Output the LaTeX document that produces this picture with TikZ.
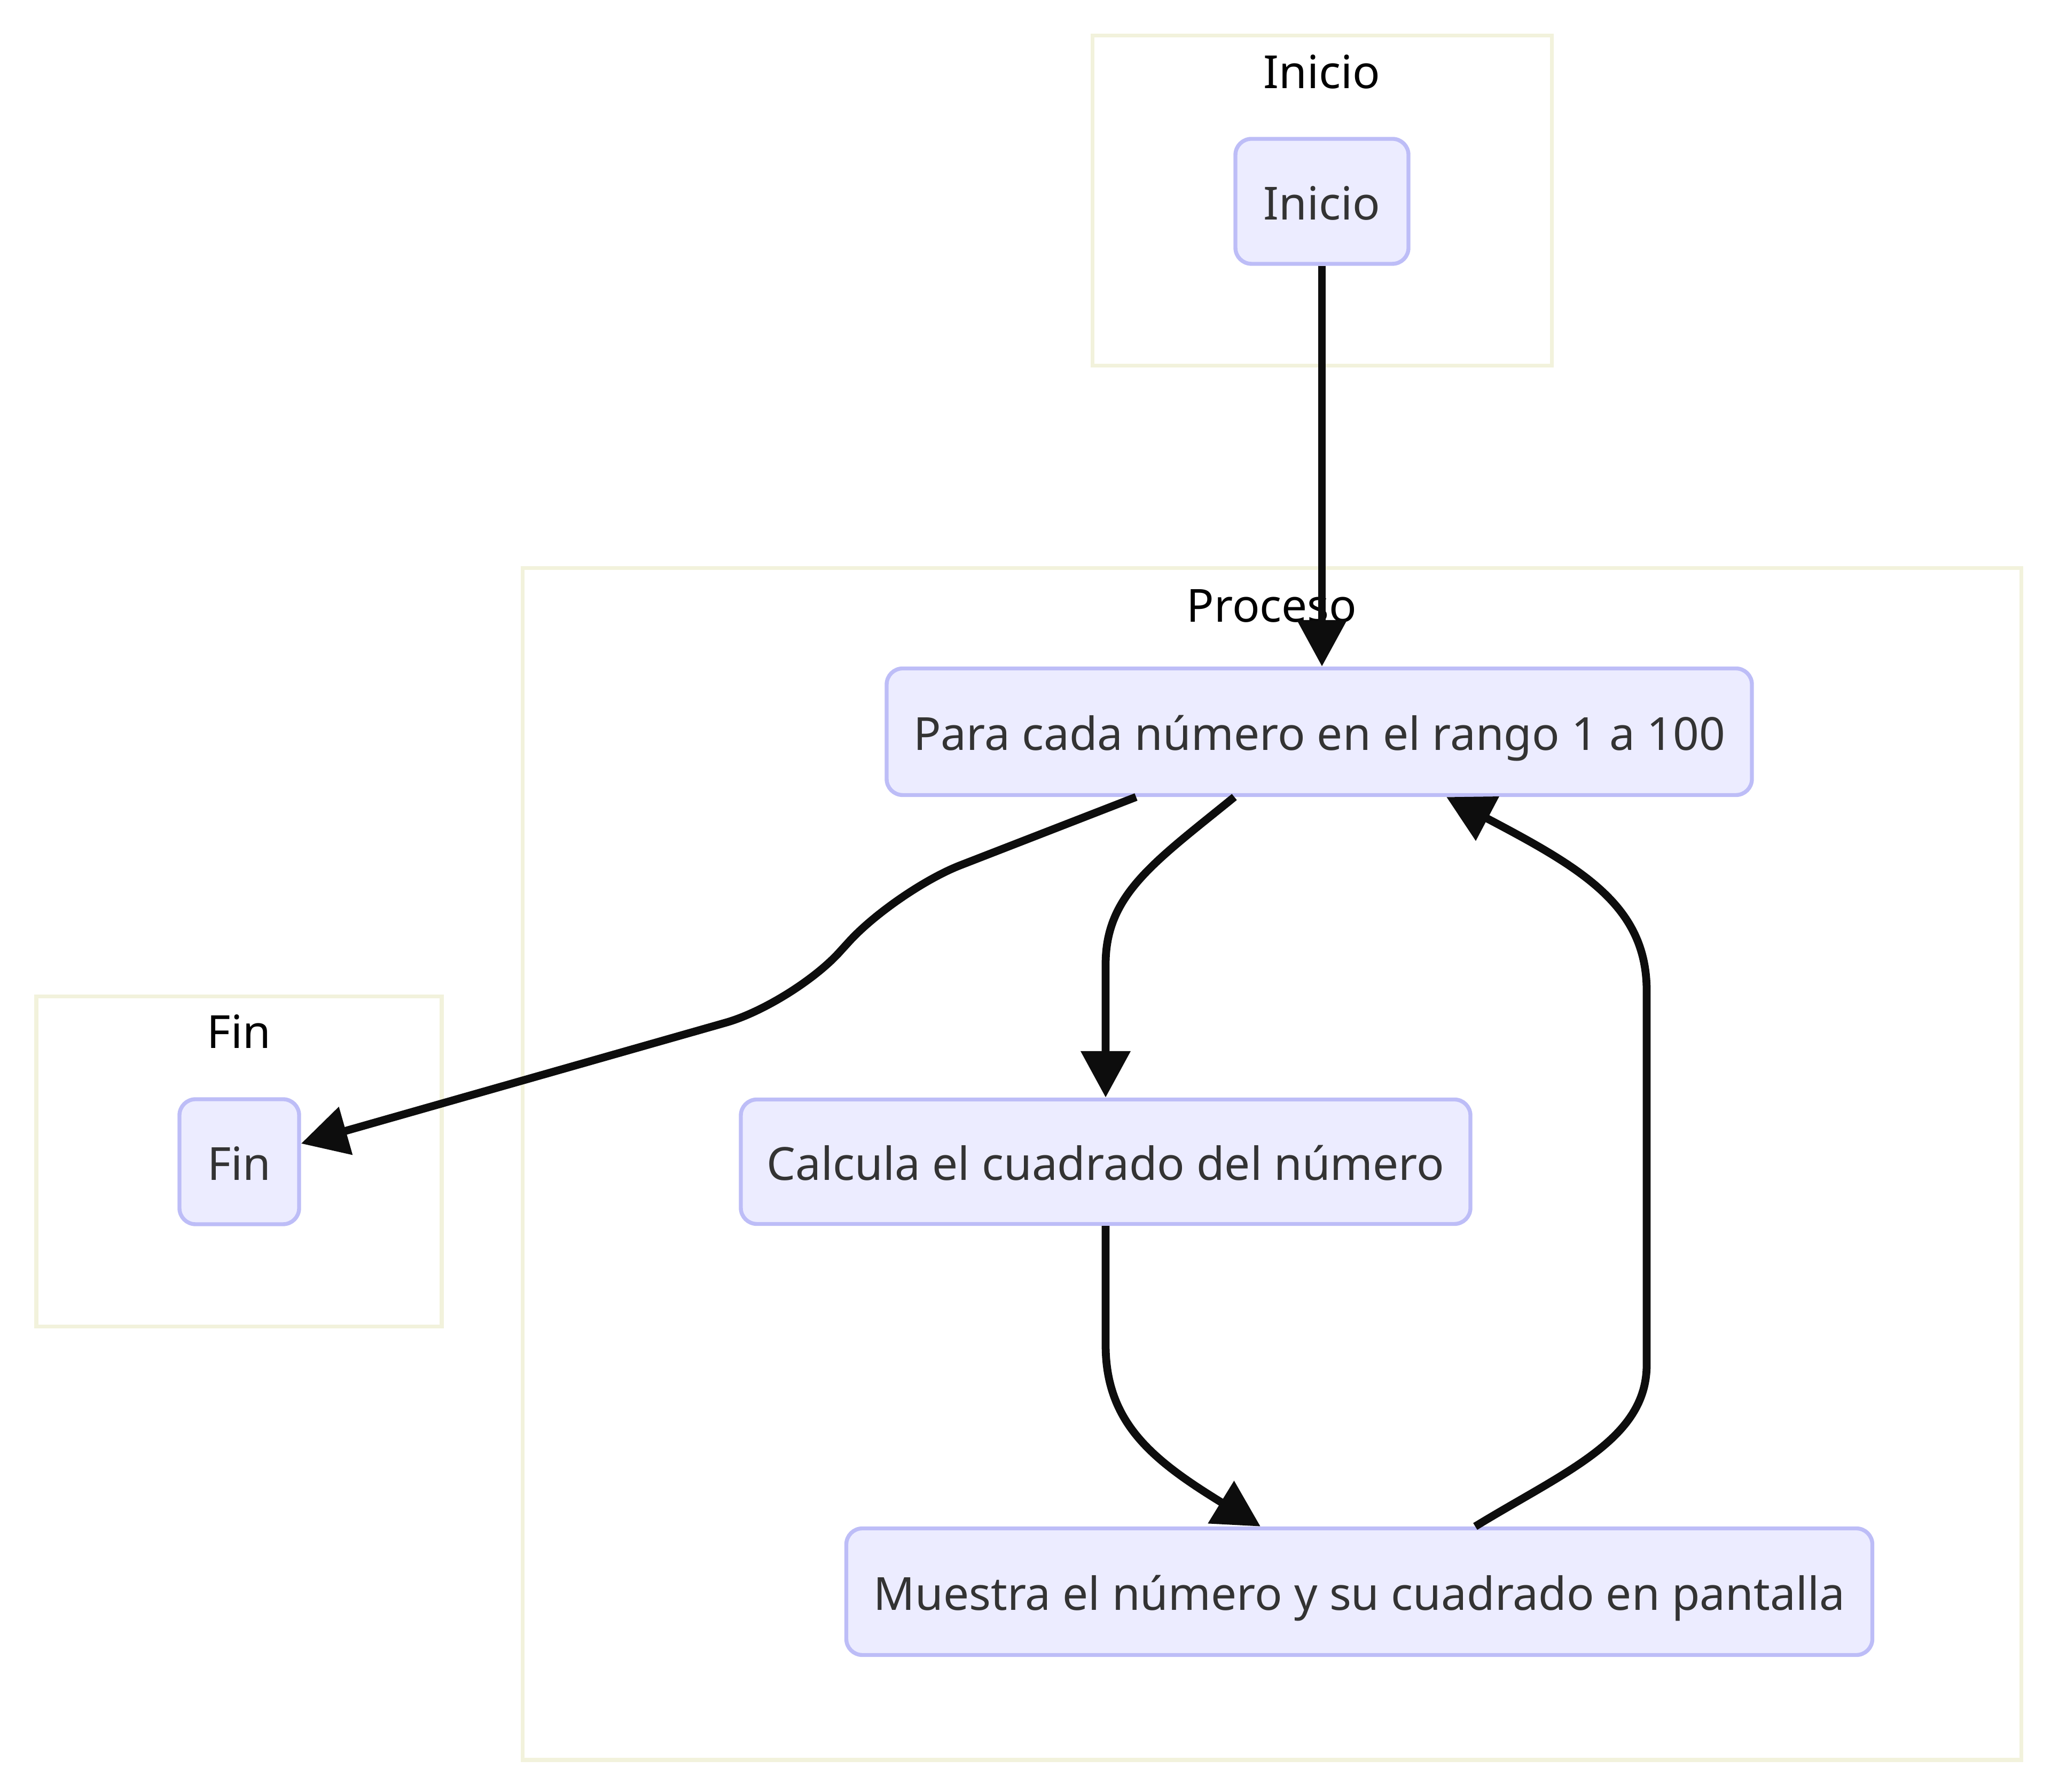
\documentclass[tikz,border=0pt]{standalone}
\usepackage{fontspec}
\setmainfont{Noto Sans}
\usetikzlibrary{arrows.meta}
\definecolor{nodefill}{RGB}{236,236,255}
\definecolor{nodeline}{RGB}{189,189,247}
\definecolor{groupline}{RGB}{242,242,220}
\definecolor{nodetext}{RGB}{51,51,51}
\definecolor{edgeline}{RGB}{13,13,13}
\tikzset{
  box/.style={draw=nodeline, fill=nodefill, line width=2.1pt, rounded corners=0.3cm,
    inner sep=0pt, text=nodetext, text height=0.69cm, text depth=0pt,
    font=\fontsize{24.3}{29}\selectfont},
  group/.style={draw=groupline, fill=white, line width=2pt, inner sep=0pt},
  grouptitle/.style={text=black, inner sep=0pt, anchor=base, font=\fontsize{24.3}{29}\selectfont},
  flow/.style={draw=edgeline, line width=4.2pt, -{Triangle[length=0.87cm,width=0.90cm]}}
}
\begin{document}
\begin{tikzpicture}
  \useasboundingbox (0,0) rectangle (38.4,33.55);
  % subgraphs
  \node[group, minimum width=8.6cm, minimum height=6.18cm] (gini) at (24.75,29.79) {};
  \node[grouptitle] (tini) at (24.75,31.89) {Inicio};
  \node[group, minimum width=28.06cm, minimum height=22.31cm] (gpro) at (23.81,11.755) {};
  \node[grouptitle] (tpro) at (23.81,21.90) {Proceso};
  \node[group, minimum width=7.59cm, minimum height=6.18cm] (gfin) at (4.475,11.80) {};
  \node[grouptitle] (tfin) at (4.475,13.92) {Fin};
  % steps
  \node[box, minimum width=3.24cm, minimum height=2.34cm] (ini) at (24.75,29.78) {Inicio};
  \node[box, minimum width=16.2cm, minimum height=2.37cm] (para) at (24.70,19.85) {Para cada número en el rango 1 a 100};
  \node[box, minimum width=13.66cm, minimum height=2.33cm] (calc) at (20.70,11.80) {Calcula el cuadrado del número};
  \node[box, minimum width=19.21cm, minimum height=2.37cm] (muestra) at (25.45,3.75) {Muestra el número y su cuadrado en pantalla};
  \node[box, minimum width=2.24cm, minimum height=2.34cm] (fin) at (4.48,11.80) {Fin};
  % edges
  \draw[flow] (ini.south) -- (ini.south |- para.north);
  \draw[flow, rounded corners=1.3cm] ([xshift=-3.43cm]para.south) -- (16.77,16.88) -- (14.84,14.76)
    -- ([yshift=0.34cm]fin.east);
  \draw[flow] ([xshift=-1.59cm]para.south) .. controls (21.6,17.4) and (20.70,16.8) .. (20.70,15.5) -- (calc.north);
  \draw[flow] (calc.south) -- (20.70,8.37) .. controls (20.70,6.9) and (21.6,6.2) .. ([xshift=-1.85cm]muestra.north);
  \draw[flow] ([xshift=2.17cm]muestra.north) .. controls (29.3,6.0) and (30.83,6.6) .. (30.83,8.0)
    -- (30.83,15.0) .. controls (30.83,16.6) and (29.6,17.3) .. ([xshift=2.38cm]para.south);
\end{tikzpicture}
\end{document}
